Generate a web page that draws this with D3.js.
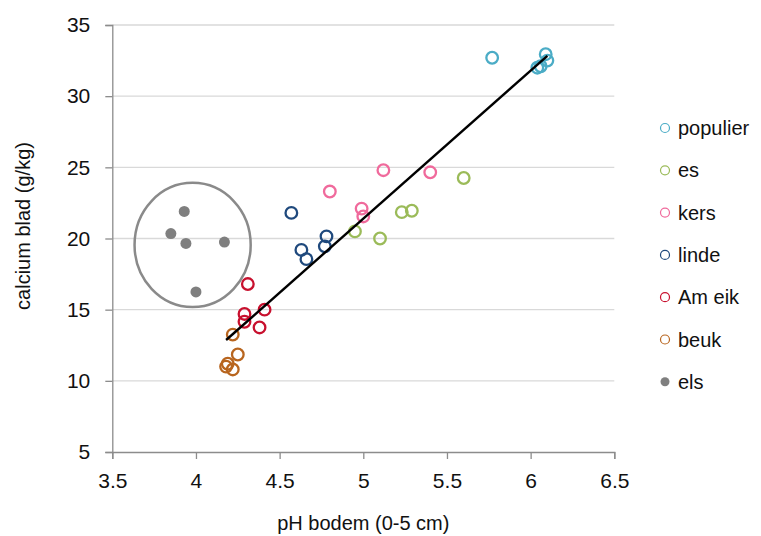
<!DOCTYPE html>
<html>
<head>
<meta charset="utf-8">
<script src="https://cdnjs.cloudflare.com/ajax/libs/d3/7.8.5/d3.min.js"></script>
<style>
  body { margin: 0; background: #fff; }
  svg { font-family: "Liberation Sans", Arial, sans-serif; }
</style>
</head>
<body>
<div id="chart"></div>
<script>
// series names and colours
const seriesNames = ["populier", "es", "kers", "linde", "Am eik", "beuk", "els"]
const seriesColors = ["#4BACC6", "#9BBB59", "#F06A9C", "#1F497D", "#C8102E", "#B8651E", "#7F7F7F"]

// pH bodem (x) and calcium blad (y) per tree type
const phPopulier = [5.77, 6.09, 6.10, 6.04, 6.06]
const caPopulier = [32.7, 32.95, 32.5, 32.0, 32.1]
const phEs = [5.60, 5.23, 5.29, 4.95, 5.10]
const caEs = [24.25, 21.85, 21.95, 20.5, 20.0]
const phKers = [5.12, 5.40, 4.80, 4.99, 5.00]
const caKers = [24.8, 24.65, 23.3, 22.1, 21.55]
const phLinde = [4.57, 4.63, 4.66, 4.78, 4.77]
const caLinde = [21.8, 19.2, 18.55, 20.15, 19.45]
const phAmEik = [4.31, 4.41, 4.29, 4.29, 4.38]
const caAmEik = [16.8, 15.0, 14.7, 14.15, 13.75]
const phBeuk = [4.22, 4.25, 4.19, 4.22, 4.18]
const caBeuk = [13.25, 11.85, 11.2, 10.8, 11.0]
const phEls = [3.93, 3.85, 3.94, 4.17, 4.00]
const caEls = [21.9, 20.35, 19.65, 19.75, 16.25]

// trend line end points
const trendPh = [4.18, 6.10]
const trendCa = [12.87, 32.83]

// ellipse drawn round the els group (data units)
const elsRing = { ph: 3.98, ca: 19.55, rPh: 0.347, rCa: 4.36 }

// axis ticks
const xTicks = [3.5, 4, 4.5, 5, 5.5, 6, 6.5]
const yTicks = [5, 10, 15, 20, 25, 30, 35]

const phLists = [phPopulier, phEs, phKers, phLinde, phAmEik, phBeuk, phEls]
const caLists = [caPopulier, caEs, caKers, caLinde, caAmEik, caBeuk, caEls]

const totalWidth = 761, totalHeight = 536
const margin = { top: 25, right: 146.7, bottom: 84, left: 112.3 }
const width = totalWidth - margin.left - margin.right
const height = totalHeight - margin.top - margin.bottom

const svg = d3.select("#chart").append("svg")
    .attr("width", totalWidth)
    .attr("height", totalHeight)

const plot = svg.append("g")
    .attr("transform", "translate(" + margin.left + "," + margin.top + ")")

const x = d3.scaleLinear().domain([3.5, 6.5]).range([0, width])
const y = d3.scaleLinear().domain([5, 35]).range([height, 0])

// horizontal grid lines
plot.selectAll("line.grid")
    .data(yTicks.slice(1))
    .enter().append("line")
    .attr("class", "grid")
    .attr("x1", 0).attr("x2", width)
    .attr("y1", d => y(d)).attr("y2", d => y(d))
    .style("stroke", "#d9d9d9")
    .style("stroke-width", 1.3)

// axes
const xAxis = plot.append("g")
    .attr("transform", "translate(0," + height + ")")
    .call(d3.axisBottom(x).tickValues(xTicks).tickFormat(d => String(d)).tickSize(7).tickPadding(14))
const yAxis = plot.append("g")
    .call(d3.axisLeft(y).tickValues(yTicks).tickFormat(d => String(d)).tickSize(7).tickPadding(15))

;[xAxis, yAxis].forEach(function (g) {
    g.selectAll("path, line").style("stroke", "#8c8c8c").style("stroke-width", 1.3)
    g.selectAll("text").style("font-size", "21px").style("fill", "#111")
        .style("font-family", "'Liberation Sans', Arial, sans-serif")
})

// ring around the els group
plot.append("ellipse")
    .attr("cx", x(elsRing.ph))
    .attr("cy", y(elsRing.ca))
    .attr("rx", x(elsRing.ph + elsRing.rPh) - x(elsRing.ph))
    .attr("ry", y(elsRing.ca - elsRing.rCa) - y(elsRing.ca))
    .style("fill", "none")
    .style("stroke", "#8a8a8a")
    .style("stroke-width", 2.5)

// markers
seriesNames.forEach(function (name, i) {
    const pts = phLists[i].map((ph, j) => ({ ph: ph, ca: caLists[i][j] }))
    const filled = name === "els"
    plot.selectAll(".pt" + i)
        .data(pts)
        .enter().append("circle")
        .attr("class", "pt" + i)
        .attr("cx", d => x(d.ph))
        .attr("cy", d => y(d.ca))
        .attr("r", filled ? 5.5 : 5.8)
        .style("fill", filled ? seriesColors[i] : "none")
        .style("stroke", filled ? "none" : seriesColors[i])
        .style("stroke-width", 2.3)
})

// trend line
plot.append("path")
    .datum(trendPh.map((ph, j) => ({ ph: ph, ca: trendCa[j] })))
    .attr("d", d3.line().x(d => x(d.ph)).y(d => y(d.ca)))
    .style("fill", "none")
    .style("stroke", "#000")
    .style("stroke-width", 2.4)

// axis titles
svg.append("text")
    .attr("x", margin.left + width / 2)
    .attr("y", 530)
    .attr("text-anchor", "middle")
    .style("font-size", "20px")
    .style("fill", "#111")
    .text("pH bodem (0-5 cm)")

svg.append("text")
    .attr("transform", "translate(30,226) rotate(-90)")
    .attr("text-anchor", "middle")
    .style("font-size", "20px")
    .style("fill", "#111")
    .text("calcium blad (g/kg)")

// legend
const legend = svg.append("g").attr("transform", "translate(665,128)")
const rows = legend.selectAll("g.row")
    .data(seriesNames)
    .enter().append("g")
    .attr("class", "row")
    .attr("transform", (d, i) => "translate(0," + (i * 42.3) + ")")
rows.append("circle")
    .attr("r", 4.5)
    .style("fill", (d, i) => d === "els" ? seriesColors[i] : "none")
    .style("stroke", (d, i) => d === "els" ? "none" : seriesColors[i])
    .style("stroke-width", 1.2)
rows.append("text")
    .attr("x", 13)
    .attr("dy", "0.35em")
    .style("font-size", "20px")
    .style("fill", "#111")
    .text(d => d)
</script>
</body>
</html>
